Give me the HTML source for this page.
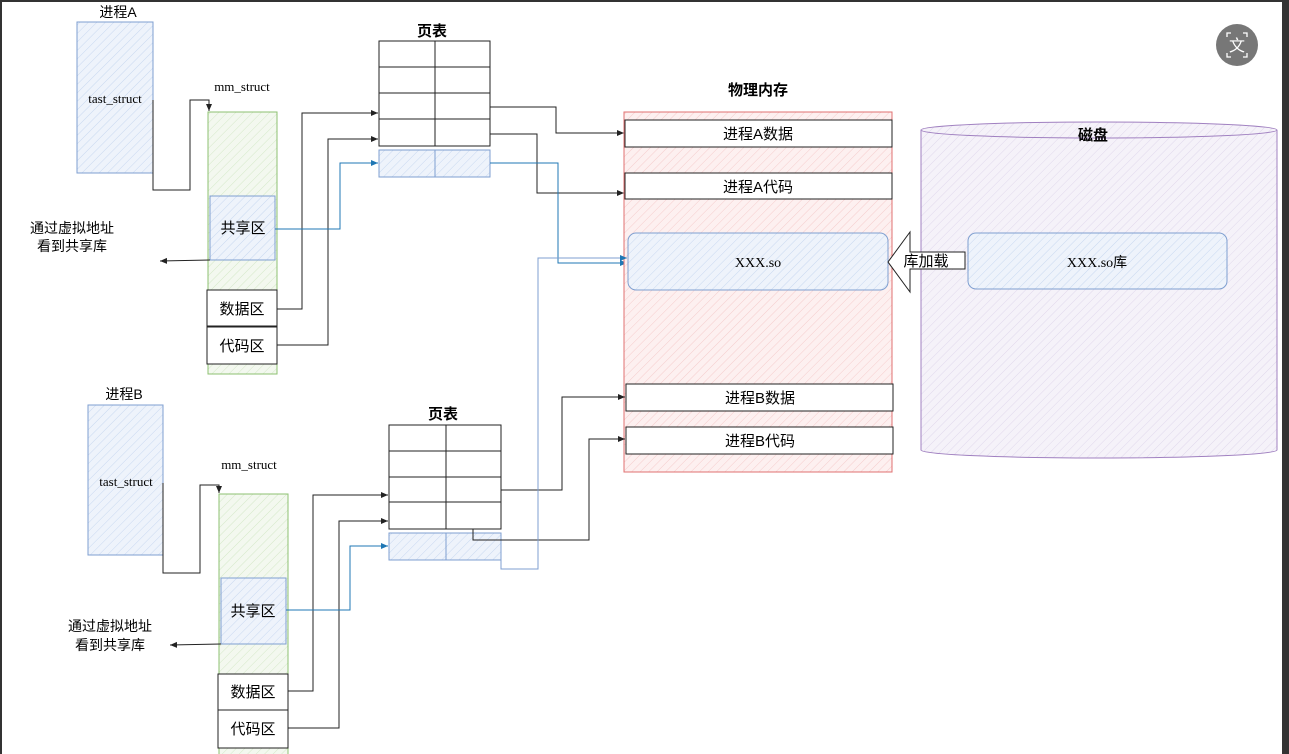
<!DOCTYPE html>
<html><head><meta charset="utf-8"><style>
html,body{margin:0;padding:0;background:#fff;}
svg{display:block;}
text{font-family:"Liberation Serif","Noto Sans CJK SC",serif;}
.cj{font-family:"Liberation Sans","Noto Sans CJK SC",sans-serif;}
</style></head><body>
<svg width="1289" height="754" viewBox="0 0 1289 754" xmlns="http://www.w3.org/2000/svg">
<defs>
<pattern id="hb" width="6" height="6" patternUnits="userSpaceOnUse" patternTransform="rotate(45)"><rect width="6" height="6" fill="#eef3fb"/><line x1="0" y1="0" x2="0" y2="6" stroke="#c8d8f0" stroke-width="1"/></pattern>
<pattern id="hg" width="6" height="6" patternUnits="userSpaceOnUse" patternTransform="rotate(45)"><rect width="6" height="6" fill="#f3f8ef"/><line x1="0" y1="0" x2="0" y2="6" stroke="#d4e8c8" stroke-width="1"/></pattern>
<pattern id="hr" width="6" height="6" patternUnits="userSpaceOnUse" patternTransform="rotate(45)"><rect width="6" height="6" fill="#fdf0f0"/><line x1="0" y1="0" x2="0" y2="6" stroke="#f5cccc" stroke-width="1"/></pattern>
<pattern id="hp" width="6" height="6" patternUnits="userSpaceOnUse" patternTransform="rotate(45)"><rect width="6" height="6" fill="#f5f2f9"/><line x1="0" y1="0" x2="0" y2="6" stroke="#e0d8ec" stroke-width="1"/></pattern>
<marker id="ar" markerWidth="8" markerHeight="8" refX="7" refY="4" orient="auto" markerUnits="userSpaceOnUse"><path d="M0,1 L7,4 L0,7 Z" fill="#222"/></marker>
<marker id="ab" markerWidth="8" markerHeight="8" refX="7" refY="4" orient="auto" markerUnits="userSpaceOnUse"><path d="M0,1 L7,4 L0,7 Z" fill="#1f77b4"/></marker>
</defs>
<rect x="0" y="0" width="1289" height="2" fill="#333"/>
<rect x="0" y="0" width="2" height="754" fill="#333"/>
<rect x="1282" y="0" width="7" height="754" fill="#333"/>

<!-- Process A -->
<text x="118" y="17" font-size="14" text-anchor="middle" class="cj">进程A</text>
<rect x="77" y="22" width="76" height="151" fill="url(#hb)" stroke="#7f9fd0"/>
<text x="115" y="103" font-size="13" text-anchor="middle">tast_struct</text>
<text x="242" y="91" font-size="13" text-anchor="middle">mm_struct</text>
<rect x="208" y="112" width="69" height="262" fill="url(#hg)" stroke="#8cc070"/>
<rect x="210" y="196" width="65" height="64" fill="url(#hb)" stroke="#7f9fd0"/>
<text x="243" y="233" font-size="15" text-anchor="middle" class="cj">共享区</text>
<rect x="207" y="290" width="70" height="36" fill="#fff" stroke="#222"/>
<text x="242" y="314" font-size="15" text-anchor="middle" class="cj">数据区</text>
<rect x="207" y="327" width="70" height="37" fill="#fff" stroke="#222"/>
<text x="242" y="351" font-size="15" text-anchor="middle" class="cj">代码区</text>
<polyline points="153,100 153,190 190,190 190,100 209,100 209,111" fill="none" stroke="#222" marker-end="url(#ar)"/>
<text x="72" y="233" font-size="14" text-anchor="middle" class="cj">通过虚拟地址</text>
<text x="72" y="251" font-size="14" text-anchor="middle" class="cj">看到共享库</text>
<line x1="210" y1="260" x2="160" y2="261" stroke="#222" marker-end="url(#ar)"/>

<text x="432" y="36" font-size="15" font-weight="bold" text-anchor="middle" class="cj">页表</text>
<g fill="#fff" stroke="#222">
<rect x="379" y="41" width="56" height="26"/><rect x="435" y="41" width="55" height="26"/>
<rect x="379" y="67" width="56" height="26"/><rect x="435" y="67" width="55" height="26"/>
<rect x="379" y="93" width="56" height="26"/><rect x="435" y="93" width="55" height="26"/>
<rect x="379" y="119" width="56" height="27"/><rect x="435" y="119" width="55" height="27"/>
</g>
<rect x="379" y="150" width="56" height="27" fill="url(#hb)" stroke="#7f9fd0"/><rect x="435" y="150" width="55" height="27" fill="url(#hb)" stroke="#7f9fd0"/>
<polyline points="277,309 302,309 302,113 378,113" fill="none" stroke="#222" marker-end="url(#ar)"/>
<polyline points="277,345 328,345 328,139 378,139" fill="none" stroke="#222" marker-end="url(#ar)"/>
<polyline points="275,229 340,229 340,163 378,163" fill="none" stroke="#1f77b4" marker-end="url(#ab)"/>
<polyline points="490,107 556,107 556,133 624,133" fill="none" stroke="#222" marker-end="url(#ar)"/>
<polyline points="490,134 537,134 537,193 624,193" fill="none" stroke="#222" marker-end="url(#ar)"/>
<polyline points="490,163 558,163 558,263 627,263" fill="none" stroke="#1f77b4" marker-end="url(#ab)"/>

<!-- Physical memory -->
<text x="758" y="95" font-size="15" font-weight="bold" text-anchor="middle" class="cj">物理内存</text>
<rect x="624" y="112" width="268" height="360" fill="url(#hr)" stroke="#e07070"/>
<rect x="625" y="120" width="267" height="27" fill="#fff" stroke="#222"/>
<text x="758" y="139" font-size="15" text-anchor="middle" class="cj">进程A数据</text>
<rect x="625" y="173" width="267" height="26" fill="#fff" stroke="#222"/>
<text x="758" y="192" font-size="15" text-anchor="middle" class="cj">进程A代码</text>
<rect x="628" y="233" width="260" height="57" rx="8" fill="url(#hb)" stroke="#7f9fd0"/>
<text x="758" y="267" font-size="14" text-anchor="middle">XXX.so</text>
<rect x="626" y="384" width="267" height="27" fill="#fff" stroke="#222"/>
<text x="760" y="403" font-size="15" text-anchor="middle" class="cj">进程B数据</text>
<rect x="626" y="427" width="267" height="27" fill="#fff" stroke="#222"/>
<text x="760" y="446" font-size="15" text-anchor="middle" class="cj">进程B代码</text>

<!-- Disk -->
<path d="M921,130 L921,450 A178,8 0 0 0 1277,450 L1277,130" fill="url(#hp)" stroke="#a080c0"/>
<ellipse cx="1099" cy="130" rx="178" ry="8" fill="url(#hp)" stroke="#a080c0"/>
<text x="1093" y="140" font-size="15" font-weight="bold" text-anchor="middle" class="cj">磁盘</text>
<rect x="968" y="233" width="259" height="56" rx="8" fill="url(#hb)" stroke="#7f9fd0"/>
<text x="1097" y="267" font-size="14" text-anchor="middle">XXX.so库</text>
<path d="M888,262 L910,232 L910,252 L965,252 L965,269 L910,269 L910,292 Z" fill="#fff" stroke="#222"/>
<text x="926" y="266" font-size="15" text-anchor="middle" class="cj">库加载</text>

<!-- Process B -->
<text x="124" y="399" font-size="14" text-anchor="middle" class="cj">进程B</text>
<rect x="88" y="405" width="75" height="150" fill="url(#hb)" stroke="#7f9fd0"/>
<text x="126" y="486" font-size="13" text-anchor="middle">tast_struct</text>
<text x="249" y="469" font-size="13" text-anchor="middle">mm_struct</text>
<rect x="219" y="494" width="69" height="262" fill="url(#hg)" stroke="#8cc070"/>
<rect x="221" y="578" width="65" height="66" fill="url(#hb)" stroke="#7f9fd0"/>
<text x="253" y="616" font-size="15" text-anchor="middle" class="cj">共享区</text>
<rect x="218" y="674" width="70" height="36" fill="#fff" stroke="#222"/>
<text x="253" y="697" font-size="15" text-anchor="middle" class="cj">数据区</text>
<rect x="218" y="710" width="70" height="38" fill="#fff" stroke="#222"/>
<text x="253" y="734" font-size="15" text-anchor="middle" class="cj">代码区</text>
<polyline points="163,483 163,573 200,573 200,485 219,485 219,493" fill="none" stroke="#222" marker-end="url(#ar)"/>
<text x="110" y="631" font-size="14" text-anchor="middle" class="cj">通过虚拟地址</text>
<text x="110" y="650" font-size="14" text-anchor="middle" class="cj">看到共享库</text>
<line x1="221" y1="644" x2="170" y2="645" stroke="#222" marker-end="url(#ar)"/>

<text x="443" y="419" font-size="15" font-weight="bold" text-anchor="middle" class="cj">页表</text>
<g fill="#fff" stroke="#222">
<rect x="389" y="425" width="57" height="26"/><rect x="446" y="425" width="55" height="26"/>
<rect x="389" y="451" width="57" height="26"/><rect x="446" y="451" width="55" height="26"/>
<rect x="389" y="477" width="57" height="25"/><rect x="446" y="477" width="55" height="25"/>
<rect x="389" y="502" width="57" height="27"/><rect x="446" y="502" width="55" height="27"/>
</g>
<rect x="389" y="533" width="57" height="27" fill="url(#hb)" stroke="#7f9fd0"/><rect x="446" y="533" width="55" height="27" fill="url(#hb)" stroke="#7f9fd0"/>
<polyline points="288,691 313,691 313,495 388,495" fill="none" stroke="#222" marker-end="url(#ar)"/>
<polyline points="288,728 339,728 339,521 388,521" fill="none" stroke="#222" marker-end="url(#ar)"/>
<polyline points="286,610 350,610 350,546 388,546" fill="none" stroke="#1f77b4" marker-end="url(#ab)"/>
<polyline points="501,490 562,490 562,397 625,397" fill="none" stroke="#222" marker-end="url(#ar)"/>
<polyline points="473,529 473,540 589,540 589,439 625,439" fill="none" stroke="#222" marker-end="url(#ar)"/>
<polyline points="501,560 501,569 538,569 538,258 627,258" fill="none" stroke="#7f9fd0" marker-end="url(#ab)"/>

<!-- icon -->
<circle cx="1237" cy="45" r="21" fill="#777"/>
<text x="1237" y="51" font-size="16" fill="#fff" text-anchor="middle" class="cj">文</text>
<path d="M1227,37 v-4 h4 M1243,33 h4 v4 M1247,53 v4 h-4 M1231,57 h-4 v-4" fill="none" stroke="#fff" stroke-width="1.3"/>
</svg>
</body></html>
